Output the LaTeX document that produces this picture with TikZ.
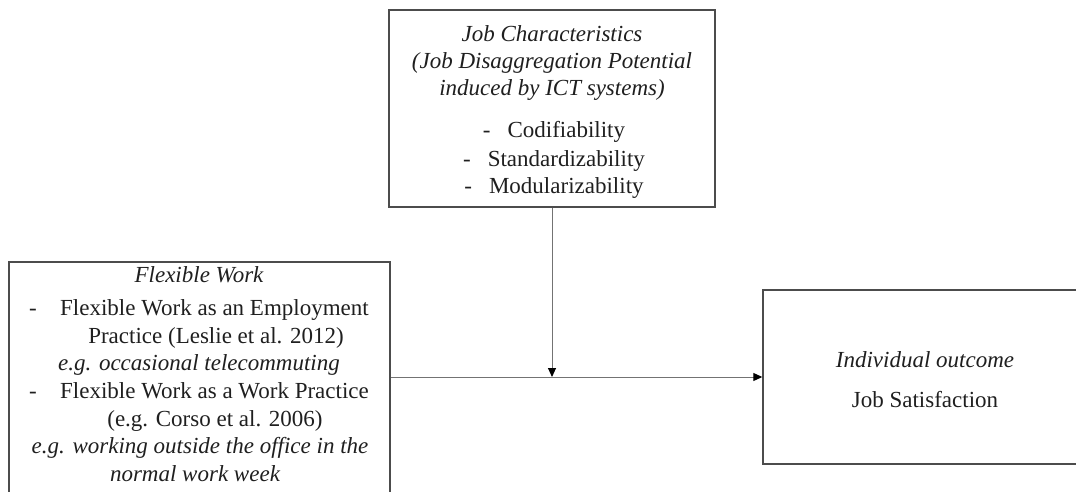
\documentclass[tikz,border=0pt]{standalone}
\usepackage{fontspec}
\setmainfont{Liberation Serif}
\usetikzlibrary{arrows.meta}
\begin{document}
\begin{tikzpicture}[x=1pt,y=-1pt,
  box/.style={draw=black!70,line width=1.4pt,rectangle,inner sep=0pt},
  conn/.style={draw=black!55,line width=1pt,-{Triangle[length=9pt,width=8pt,color=black]}},
  txt/.style={anchor=base,inner sep=0pt,text=black!88,font=\fontsize{23}{27.5}\selectfont},
  itxt/.style={txt,font=\fontsize{23}{27.5}\selectfont\itshape}]
\useasboundingbox (0,0) rectangle (1076,492);
% boxes
\node[box,minimum width=326pt,minimum height=197pt] (top) at (552,108.5) {};
\node[box,minimum width=381pt,minimum height=258pt] (left) at (199.5,391) {};
\node[box,minimum width=327pt,minimum height=174pt] (right) at (926.5,377) {};
% top box text
\node[itxt] (t1) at (552,42) {Job Characteristics};
\node[itxt] (t2) at (552,69) {(Job Disaggregation Potential};
\node[itxt] (t3) at (552,96) {induced by ICT systems)};
\node[txt] (t4) at (554,138) {-\hspace{17pt}Codifiability};
\node[txt] (t5) at (554,166) {-\hspace{17pt}Standardizability};
\node[txt] (t6) at (554,193) {-\hspace{17pt}Modularizability};
% left box text
\node[itxt] (l1) at (199,282) {Flexible Work};
\node[txt,anchor=base west] (l2d) at (29,315) {-};
\node[txt,anchor=base west] (l2) at (60,315) {Flexible Work as an Employment};
\node[txt] (l3) at (216,343) {Practice (Leslie et al. 2012)};
\node[itxt] (l4) at (199,370) {e.g. occasional telecommuting};
\node[txt,anchor=base west] (l5d) at (29,398) {-};
\node[txt,anchor=base west] (l5) at (60,398) {Flexible Work as a Work Practice};
\node[txt] (l6) at (215,426) {(e.g. Corso et al. 2006)};
\node[itxt] (l7) at (200,453) {e.g. working outside the office in the};
\node[itxt] (l8) at (195,481) {normal work week};
% right box text
\node[itxt] (r1) at (925,367) {Individual outcome};
\node[txt] (r2) at (925,407) {Job Satisfaction};
% connectors
\coordinate (j) at (top.south |- right.west);
\draw[conn] (left.east |- right.west) -- (right.west);
\draw[conn] (top.south) -- (j);
\end{tikzpicture}
\end{document}
